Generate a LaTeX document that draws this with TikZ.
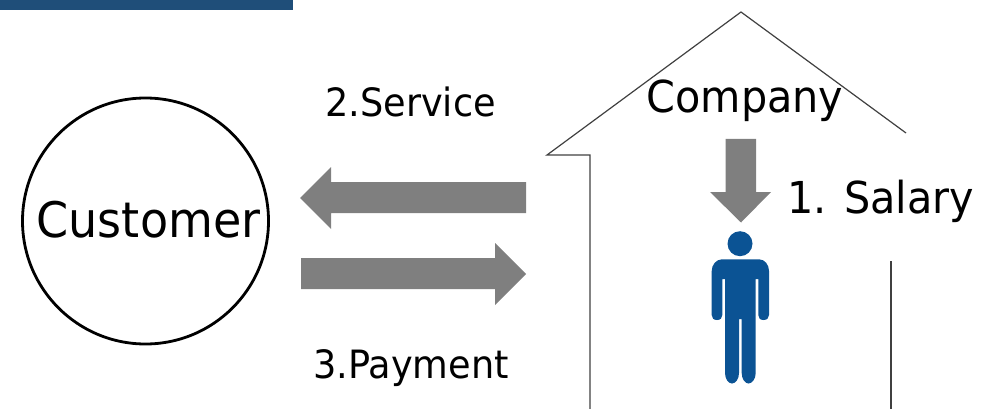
\documentclass[tikz,border=0pt]{standalone}
\usepackage{fontspec}
\setmainfont[FakeStretch=0.94]{DejaVu Sans}
\definecolor{barblue}{HTML}{1F4E79}
\definecolor{personblue}{HTML}{0B5394}
\definecolor{arrowgray}{HTML}{7F7F7F}
\definecolor{wallgray}{HTML}{404040}
\tikzset{
  lab/.style={anchor=base,inner sep=0pt,outer sep=0pt,text=black},
  biglab/.style={lab,font=\fontsize{49}{52}\selectfont},
  midlab/.style={lab,font=\fontsize{44}{48}\selectfont},
  smalllab/.style={lab,font=\fontsize{39}{42}\selectfont},
  blockarrow/.style={fill=arrowgray,draw=none},
  wall/.style={draw=wallgray,line width=1.2pt,line join=miter},
  person/.style={fill=personblue,draw=none}
}
\begin{document}
\begin{tikzpicture}[x=1pt,y=-1pt]
\useasboundingbox (0,0) rectangle (982,409);
\fill[barblue] (0,0) rectangle (293,10);
% circle
\node[circle,draw=black,line width=2.8pt,minimum size=246pt,inner sep=0pt,outer sep=0pt] (customer) at (145.5,221) {};
\node[biglab] (customerlabel) at (148.5,237) {Customer};
% house
\draw[wall] (590,409) -- (590,155) -- (547,155) -- (741,12) -- (906,133);
\draw[wall] (891,261) -- (891,409);
\node[midlab] (company) at (745,113) {Company};
% horizontal arrows
\path[blockarrow] (526,182) -- (331,182) -- (331,167) -- (300,198) -- (331,229) -- (331,213) -- (526,213) -- cycle;
\path[blockarrow] (301,258) -- (495,258) -- (495,243) -- (526,274) -- (495,305) -- (495,289) -- (301,289) -- cycle;
% down arrow
\path[blockarrow] (725.7,139) -- (756,139) -- (756,192) -- (771,192) -- (741,222.5) -- (710,192) -- (725.7,192) -- cycle;
\node[smalllab] (service) at (410.5,117) {2.Service};
\node[smalllab] (payment) at (411,378) {3.Payment};
\node[midlab] (salary) at (880.5,213) {1. Salary};
% person
\fill[person] (740,243.7) circle (12.5);
\path[person] (722,259.3) -- (759,259.3) .. controls (765,259.3) and (769,265) .. (769,271)
  -- (769,315) .. controls (769,318) and (767,320) .. (763.5,320)
  .. controls (760,320) and (758.3,318) .. (758.3,315) -- (758.3,279) -- (755.7,279)
  -- (755.7,373) .. controls (755.7,379) and (752,383.5) .. (748.5,383.5)
  .. controls (745,383.5) and (741.7,379) .. (741.7,373) -- (741.7,319) -- (739,319)
  -- (739,373) .. controls (739,379) and (735.5,383.5) .. (732,383.5)
  .. controls (728.5,383.5) and (725,379) .. (725,373) -- (725,279) -- (722.3,279)
  -- (722.3,315) .. controls (722.3,318) and (720.5,320) .. (717,320)
  .. controls (713.5,320) and (711.7,318) .. (711.7,315) -- (711.7,271)
  .. controls (711.7,265) and (716,259.3) .. (722,259.3) -- cycle;
\end{tikzpicture}
\end{document}
